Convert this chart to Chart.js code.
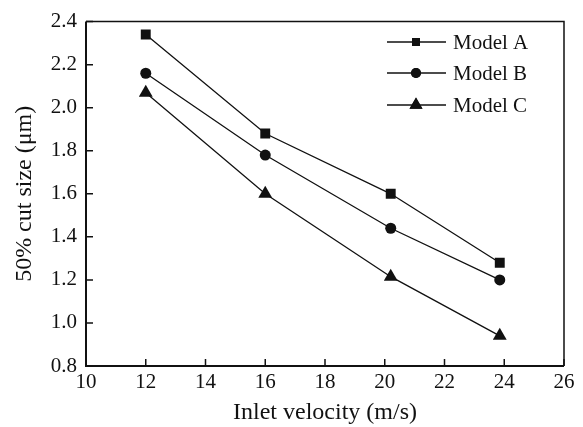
<!DOCTYPE html>
<html><head><meta charset="utf-8">
<script src="https://cdn.jsdelivr.net/npm/chart.js@4.4.1/dist/chart.umd.min.js"></script>
<style>html,body{margin:0;padding:0;background:#fff}#wrap{width:583px;height:427px}</style>
</head><body><div id="wrap"><canvas id="c" width="583" height="427"></canvas></div>
<script>
const velocity = [12, 16, 20.2, 23.85];
const modelA = [2.34, 1.88, 1.60, 1.28];
const modelB = [2.16, 1.78, 1.44, 1.20];
const modelC = [2.07, 1.60, 1.215, 0.94];
const seriesLabels = ['Model A', 'Model B', 'Model C'];
const xTicks = [10, 12, 14, 16, 18, 20, 22, 24, 26];
const yTicks = [0.8, 1.0, 1.2, 1.4, 1.6, 1.8, 2.0, 2.2, 2.4];
const FONT = '"Liberation Serif", "Times New Roman", serif';

function pts(ys){ return velocity.map((x,i)=>({x:x,y:ys[i]})); }
const styles = [
  {pointStyle:'rect', r:7, lr:5.6},
  {pointStyle:'circle', r:5.5, lr:5},
  {pointStyle:'triangle', r:8, lr:7.5}
];
const datasets = [modelA, modelB, modelC].map((d,i)=>({
  label: seriesLabels[i], data: pts(d),
  borderColor:'#111', backgroundColor:'#111', borderWidth:1.3,
  pointStyle: styles[i].pointStyle, pointRadius: styles[i].r,
  pointBorderWidth:0, pointBackgroundColor:'#111', tension:0
}));

const framePlugin = {
  id:'frame',
  afterDatasetsDraw(chart){
    const {ctx, chartArea:a, scales:{x,y}} = chart;
    ctx.save();
    ctx.strokeStyle='#111';
    ctx.lineWidth=1.5;
    ctx.beginPath();
    ctx.moveTo(a.left,a.top); ctx.lineTo(a.right,a.top); ctx.lineTo(a.right,a.bottom);
    ctx.stroke();
    ctx.lineWidth=2;
    ctx.beginPath();
    ctx.moveTo(a.left,a.top); ctx.lineTo(a.left,a.bottom); ctx.lineTo(a.right,a.bottom);
    ctx.stroke();
    ctx.lineWidth=1.5;
    ctx.beginPath();
    xTicks.forEach(v=>{const px=x.getPixelForValue(v); ctx.moveTo(px,a.bottom); ctx.lineTo(px,a.bottom-7);});
    yTicks.forEach(v=>{const py=y.getPixelForValue(v); ctx.moveTo(a.left,py); ctx.lineTo(a.left+7,py);});
    ctx.stroke();
    const x0=387, x1=446, xm=416, tx=453, rows=[42,73,105];
    chart.data.datasets.forEach((ds,i)=>{
      const yy=rows[i];
      ctx.lineWidth=1.3; ctx.strokeStyle='#111';
      ctx.beginPath(); ctx.moveTo(x0,yy); ctx.lineTo(x1,yy); ctx.stroke();
      ctx.fillStyle='#111';
      Chart.helpers.drawPoint(ctx,{pointStyle:styles[i].pointStyle, radius:styles[i].lr, borderWidth:0}, xm, yy);
      ctx.fill();
      ctx.font='21px '+FONT; ctx.textBaseline='middle'; ctx.textAlign='left';
      ctx.fillText(ds.label, tx, yy+1);
    });
    ctx.restore();
  }
};

new Chart(document.getElementById('c'), {
  type:'line',
  data:{datasets},
  options:{
    responsive:false, animation:false, devicePixelRatio:1,
    layout:{padding:{left:0, top:19, right:19, bottom:0}},
    plugins:{legend:{display:false}, tooltip:{enabled:false}},
    scales:{
      x:{type:'linear', min:10, max:26,
        afterBuildTicks(s){ s.ticks = xTicks.map(v=>({value:v})); },
        afterFit(s){ s.height = 61; },
        grid:{display:false, drawTicks:false}, border:{display:false},
        ticks:{color:'#111', font:{family:FONT, size:21}, padding:4, maxRotation:0},
        title:{display:true, text:'Inlet velocity (m/s)', color:'#111', font:{family:FONT, size:24}, padding:{top:0,bottom:0}}
      },
      y:{type:'linear', min:0.8, max:2.4,
        afterBuildTicks(s){ s.ticks = yTicks.map(v=>({value:v})); },
        afterFit(s){ s.width = 86; },
        grid:{display:false, drawTicks:false}, border:{display:false},
        ticks:{color:'#111', font:{family:FONT, size:21}, padding:9, callback:v=>Number(v).toFixed(1)},
        title:{display:true, text:'50% cut size (μm)', color:'#111', font:{family:FONT, size:24}, padding:{top:10,bottom:0}}
      }
    }
  },
  plugins:[framePlugin]
});
</script></body></html>
